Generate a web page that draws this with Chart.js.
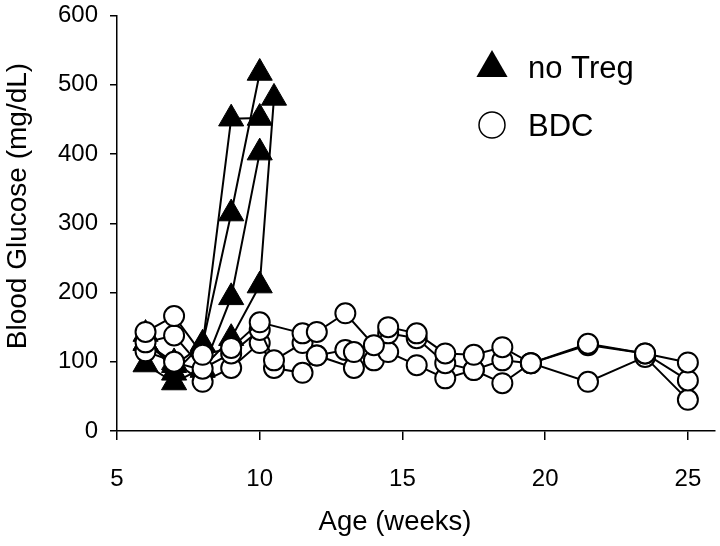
<!DOCTYPE html>
<html>
<head>
<meta charset="utf-8">
<script src="https://cdn.jsdelivr.net/npm/chart.js@4.4.1/dist/chart.umd.min.js"></script>
<style>
  html, body { margin: 0; padding: 0; background: #fff; }
  #wrap { width: 720px; height: 546px; position: relative; }
</style>
</head>
<body>
<div id="wrap"><canvas id="c" width="720" height="546"></canvas></div>
<script>
// ---- Data ----
const xTicks = [5, 10, 15, 20, 25];
const yTicks = [0, 100, 200, 300, 400, 500, 600];

// "no Treg" mice (filled triangles)
const t1Weeks = [6, 7, 8, 9, 10];
const t1Glucose = [127, 95, 124, 451, 452];
const t2Weeks = [6, 7, 8, 9, 10];
const t2Glucose = [140, 84, 126, 314, 517];
const t3Weeks = [6, 7, 8, 9, 10];
const t3Glucose = [127, 99, 88, 193, 402];
const t4Weeks = [6, 7, 8, 9, 10, 10.5];
const t4Glucose = [96, 70, 91, 134, 210, 481];

// BDC mice (open circles)
const b1Weeks = [6, 7, 8, 9, 10, 11.5, 12, 13, 14, 14.5, 15.5, 16.5, 17.5, 18.5, 19.5, 21.5, 23.5, 25];
const b1Glucose = [143, 166, 110, 120, 157, 141, 143, 170, 124, 150, 141, 112, 110, 121, 98, 126, 112, 99];
const b2Weeks = [6, 7, 8, 9, 10, 10.5, 11.5, 12, 13, 13.3, 14.5, 15.5, 16.5, 17.5, 18.5, 19.5, 21.5, 23.5, 25];
const b2Glucose = [128, 138, 90, 112, 146, 102, 127, 109, 117, 114, 141, 134, 98, 88, 102, 98, 124, 112, 73];
const b3Weeks = [6, 7, 8, 9, 10, 10.5, 11.5, 12, 13.3, 14, 14.5, 15.5, 16.5, 17.5, 18.5, 19.5, 21.5, 23.5, 25];
const b3Glucose = [115, 100, 71, 91, 127, 91, 84, 109, 91, 102, 114, 95, 76, 88, 69, 98, 71, 107, 45];

const legendLabels = ["no Treg", "BDC"];
const xTitle = "Age (weeks)";
const yTitle = "Blood Glucose (mg/dL)";

// ---- Build datasets ----
const FONT = "'Liberation Sans', Arial, Helvetica, sans-serif";
function pts(xs, ys) { return xs.map((x, i) => ({ x: x, y: ys[i] })); }
function triSet(label, xs, ys) {
  return {
    label: label,
    data: pts(xs, ys), showLine: true, borderColor: '#000', borderWidth: 2,
    pointStyle: 'triangle', pointRadius: 14.5, pointBackgroundColor: '#000',
    pointBorderColor: '#000', pointBorderWidth: 1, clip: false
  };
}
function cirSet(label, xs, ys) {
  return {
    label: label,
    data: pts(xs, ys), showLine: true, borderColor: '#000', borderWidth: 2,
    pointStyle: 'circle', pointRadius: 10, pointBackgroundColor: '#fff',
    pointBorderColor: '#000', pointBorderWidth: 2, clip: false
  };
}

const datasets = [
  cirSet(legendLabels[1], b1Weeks, b1Glucose),
  cirSet(legendLabels[1], b2Weeks, b2Glucose),
  cirSet(legendLabels[1], b3Weeks, b3Glucose),
  triSet(legendLabels[0], t1Weeks, t1Glucose),
  triSet(legendLabels[0], t2Weeks, t2Glucose),
  triSet(legendLabels[0], t3Weeks, t3Glucose),
  triSet(legendLabels[0], t4Weeks, t4Glucose)
];

// Stretch the x axis to the right edge used by the reference
const areaPlugin = {
  id: 'area',
  afterLayout(chart) {
    const xs = chart.scales.x;
    const right = chart.width - 5;
    chart.chartArea.right = right;
    chart.chartArea.width = right - chart.chartArea.left;
    xs.right = right;
    xs.width = right - xs.left;
    xs.configure();
  }
};

// Custom in-plot legend and axis titles
const decorPlugin = {
  id: 'decor',
  afterDraw(chart) {
    const ctx = chart.ctx;
    ctx.save();
    // legend triangle
    ctx.fillStyle = '#000';
    ctx.beginPath();
    const r = 18, x = 492, y = 68;
    ctx.moveTo(x, y - r);
    ctx.lineTo(x + r * Math.sin(2 * Math.PI / 3), y - r * Math.cos(2 * Math.PI / 3));
    ctx.lineTo(x + r * Math.sin(4 * Math.PI / 3), y - r * Math.cos(4 * Math.PI / 3));
    ctx.closePath();
    ctx.fill();
    // legend circle
    ctx.beginPath();
    ctx.arc(492, 125, 13, 0, Math.PI * 2);
    ctx.fillStyle = '#fff';
    ctx.fill();
    ctx.lineWidth = 1.5;
    ctx.strokeStyle = '#000';
    ctx.stroke();
    // legend text
    ctx.fillStyle = '#000';
    ctx.font = '31px ' + FONT;
    ctx.textBaseline = 'alphabetic';
    ctx.textAlign = 'left';
    ctx.fillText(legendLabels[0], 528, 78);
    ctx.fillText(legendLabels[1], 528, 136);
    // x title
    ctx.font = '27.5px ' + FONT;
    ctx.textAlign = 'center';
    ctx.textBaseline = 'middle';
    ctx.fillText(xTitle, 395, 522);
    // y title
    ctx.translate(18, 206);
    ctx.rotate(-Math.PI / 2);
    ctx.font = '28px ' + FONT;
    ctx.fillText(yTitle, 0, 0);
    ctx.restore();
  }
};

new Chart(document.getElementById('c'), {
  type: 'scatter',
  data: { datasets: datasets },
  options: {
    responsive: false,
    animation: false,
    devicePixelRatio: 1,
    layout: { padding: { top: 15, right: 5, bottom: 0, left: 0 } },
    plugins: { legend: { display: false }, tooltip: { enabled: false } },
    scales: {
      x: {
        type: 'linear', min: 5, max: 25.95,
        afterBuildTicks: (s) => { s.ticks = xTicks.map(v => ({ value: v })); },
        afterFit: (s) => { s.height = 115; s.paddingLeft = 0; s.paddingRight = 0; },
        grid: { drawOnChartArea: false, drawTicks: true, tickLength: 9, color: '#000', lineWidth: 1.5 },
        border: { display: true, color: '#000', width: 1.5 },
        ticks: { color: '#000', font: { family: FONT, size: 24 }, padding: 25, maxRotation: 0 },
        title: { display: false, text: xTitle }
      },
      y: {
        type: 'linear', min: 0, max: 600,
        afterBuildTicks: (s) => { s.ticks = yTicks.map(v => ({ value: v })); },
        afterFit: (s) => { s.width = 117; s.paddingTop = 0; s.paddingBottom = 0; },
        grid: { drawOnChartArea: false, drawTicks: true, tickLength: 7, color: '#000', lineWidth: 1.5 },
        border: { display: true, color: '#000', width: 1.5 },
        ticks: { color: '#000', font: { family: FONT, size: 24 }, padding: 12 },
        title: { display: false, text: yTitle }
      }
    }
  },
  plugins: [areaPlugin, decorPlugin]
});
</script>
</body>
</html>
